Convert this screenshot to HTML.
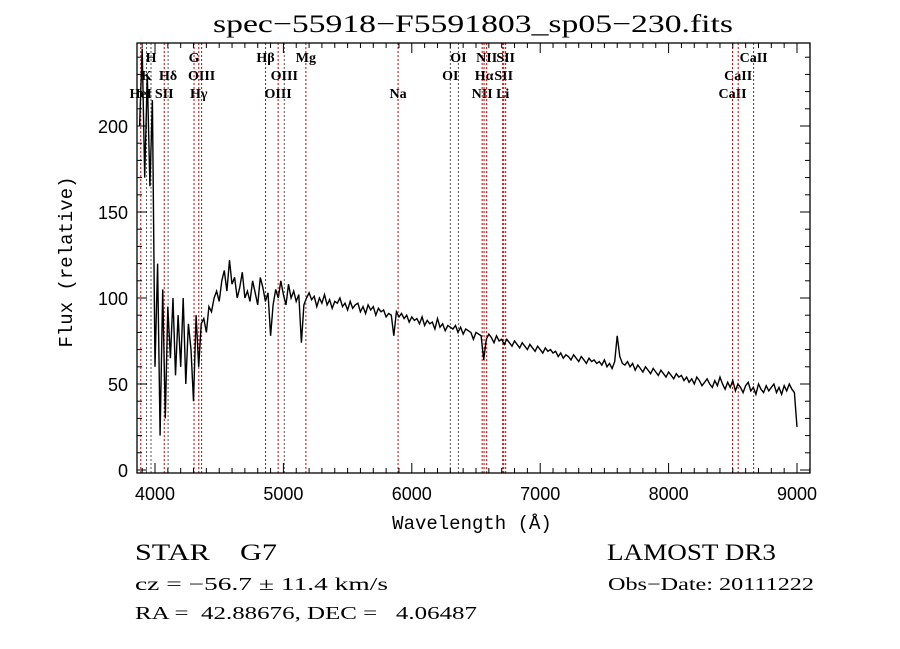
<!DOCTYPE html>
<html><head><meta charset="utf-8"><style>
html,body{margin:0;padding:0;background:#fff;}
svg{display:block;font-family:"Liberation Serif",serif;}
text{white-space:pre;}
</style></head><body>
<svg id="chart" width="900" height="649" viewBox="0 0 900 649" xmlns="http://www.w3.org/2000/svg">
<rect width="900" height="649" fill="#fff"/>
<text x="473" y="32" font-size="25" text-anchor="middle" textLength="520" lengthAdjust="spacingAndGlyphs">spec−55918−F5591803_sp05−230.fits</text>
<g id="lines"></g>
<g id="spec"></g>
<g id="axes"></g>
<text x="472" y="529" font-size="19" text-anchor="middle" font-family="Liberation Mono, monospace">Wavelength (Å)</text>
<text transform="translate(72,262) rotate(-90)" font-size="19" text-anchor="middle" font-family="Liberation Mono, monospace">Flux (relative)</text>
<text x="135" y="560" font-size="23" textLength="142" lengthAdjust="spacingAndGlyphs">STAR    G7</text>
<text x="607" y="560" font-size="23" textLength="169" lengthAdjust="spacingAndGlyphs">LAMOST DR3</text>
<text x="135" y="590" font-size="18" textLength="253" lengthAdjust="spacingAndGlyphs">cz = −56.7 ± 11.4 km/s</text>
<text x="608" y="590" font-size="18" textLength="206" lengthAdjust="spacingAndGlyphs">Obs−Date: 20111222</text>
<text x="135" y="619" font-size="18" textLength="342" lengthAdjust="spacingAndGlyphs">RA =  42.88676, DEC =   4.06487</text>
</svg>
<script>
const specStart = 3880;
const specStep = 20;
const fluxValues = [
200,245,170,230,165,215,60,120,20,105,30,95,65,100,55,90,60,100,50,85,
70,40,90,60,85,88,80,95,92,100,104,98,110,116,104,122,108,112,100,106,
115,100,104,98,110,103,96,112,106,98,103,78,96,105,100,110,102,96,108,100,
104,98,102,74,96,100,103,99,101,95,100,97,102,96,99,94,98,97,100,95,
97,93,98,94,96,97,92,95,91,96,93,95,90,94,92,93,89,91,90,78,
92,89,91,88,90,86,89,87,88,85,89,84,87,85,86,82,88,83,85,81,
84,83,82,84,80,83,79,82,81,80,76,80,79,78,64,76,79,77,74,78,
75,76,73,76,74,72,75,73,71,74,72,70,73,71,69,72,70,68,71,69,
70,68,69,66,68,65,67,66,64,67,65,63,66,64,62,65,63,64,62,63,
61,64,60,62,59,63,78,66,62,61,63,60,62,58,61,59,57,60,58,56,
59,57,55,58,56,54,57,55,53,56,54,55,52,54,51,53,50,54,52,49,
51,53,50,48,52,49,54,50,47,51,48,52,46,50,48,45,49,51,46,48,
44,50,47,45,49,46,48,50,45,48,44,49,46,50,47,45,25];
const lineNames = ["HeI","K","H","SII","Hδ","G","Hγ","OIII","Hβ","OIII","OIII","Mg","Na","OI","OI","NII","Hα","NII","Li","SII","SII","CaII","CaII","CaII"];
const lineWaves = [3889,3934,3969,4072,4102,4304,4341,4363,4861,4959,5007,5175,5893,6300,6363,6548,6563,6583,6708,6716,6731,8498,8542,8662];
const lineRows = [2,1,0,2,1,0,2,1,0,2,1,0,2,1,0,2,1,0,2,1,0,2,1,0];
const lineDark = [0,1,1,0,1,0,0,0,0,0,1,0,0,1,1,0,0,0,0,0,0,0,0,0];
const xTicks = [4000,5000,6000,7000,8000,9000];
const yTicks = [0,50,100,150,200];

const L=137,R=810,T=43,B=473;
const xs = w => 155 + (w-4000)*0.12840;
const ys = f => 470 - f*1.72;
const NS="http://www.w3.org/2000/svg";
function mk(tag,attrs,parent){const e=document.createElementNS(NS,tag);for(const k in attrs)e.setAttribute(k,attrs[k]);parent.appendChild(e);return e;}

const gl=document.getElementById('lines');
lineWaves.forEach((w,i)=>{
  const l=mk('line',{x1:xs(w),x2:xs(w),y1:T,y2:B,stroke:lineDark[i]?'#555':'#c00000','stroke-width':1,'stroke-dasharray':'2,2'},gl);
  
  
  const t=mk('text',{x:xs(w),y:62+lineRows[i]*18,'font-size':14,'font-weight':'bold','text-anchor':'middle'},gl);
  t.textContent=lineNames[i];
  
  
});

const gs=document.getElementById('spec');
const pts=fluxValues.map((f,i)=>xs(specStart+i*specStep).toFixed(1)+','+Math.max(T,ys(f)).toFixed(1)).join(' ');
const pl=mk('polyline',{points:pts,fill:'none',stroke:'#000','stroke-width':1.4},gs);



const ga=document.getElementById('axes');
const fr=mk('rect',{x:L,y:T,width:R-L,height:B-T,fill:'none',stroke:'#000','stroke-width':1.3},ga);


for(let w=3900;w<=9100;w+=100){
  const major=w%1000===0, len=major?10:5;
  mk('line',{x1:xs(w),x2:xs(w),y1:B,y2:B-len,stroke:'#000'},ga);
  mk('line',{x1:xs(w),x2:xs(w),y1:T,y2:T+len,stroke:'#000'},ga);
}
xTicks.forEach(w=>{
  const t=mk('text',{x:xs(w),y:B+27,'font-family':'Liberation Sans, sans-serif','font-size':18,'text-anchor':'middle'},ga);
  t.textContent=w;
  
  
});
for(let f=0;f<=240;f+=10){
  const major=f%50===0,len=major?10:5;
  mk('line',{x1:L,x2:L+len,y1:ys(f),y2:ys(f),stroke:'#000'},ga);
  mk('line',{x1:R,x2:R-len,y1:ys(f),y2:ys(f),stroke:'#000'},ga);
}
yTicks.forEach(f=>{
  const t=mk('text',{x:L-9,y:ys(f)+7,'font-family':'Liberation Sans, sans-serif','font-size':18,'text-anchor':'end'},ga);
  t.textContent=f;
  
  
});
</script>
</body></html>
